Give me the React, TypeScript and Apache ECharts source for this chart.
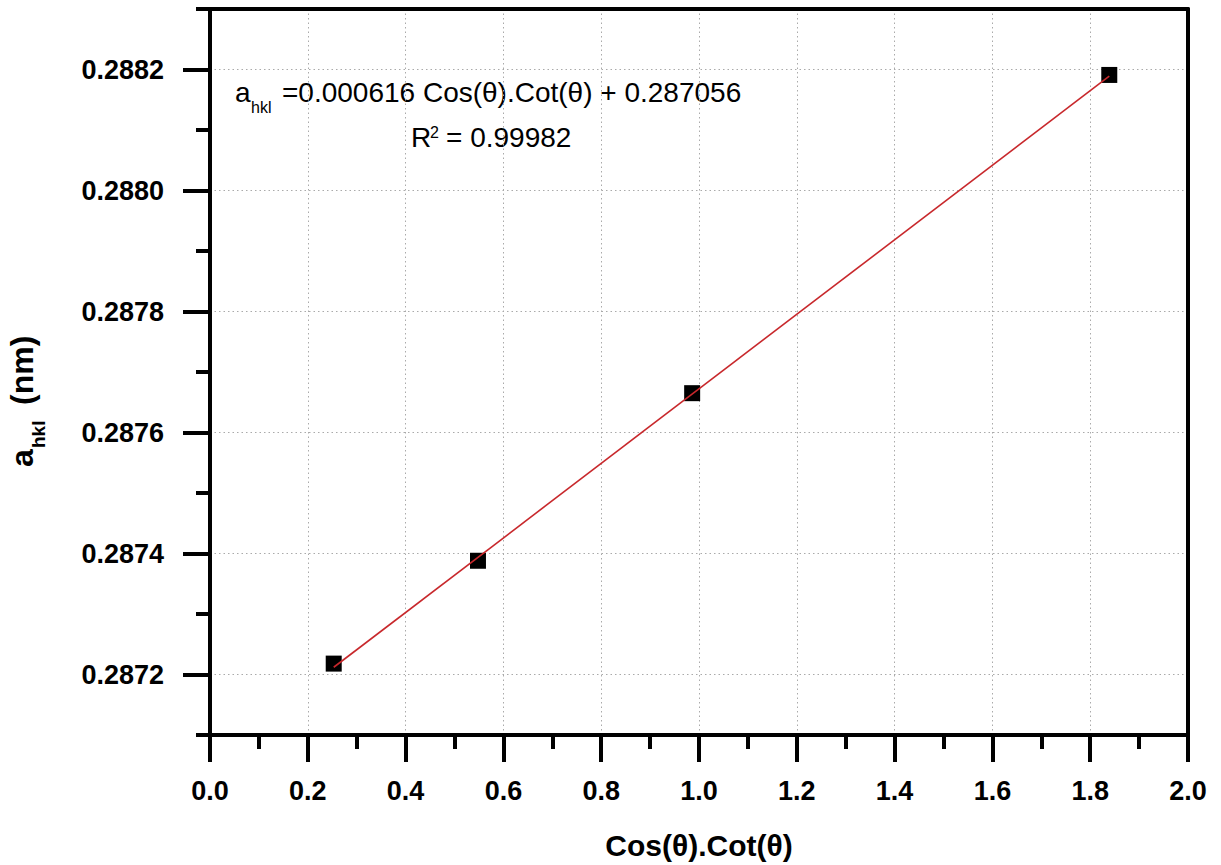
import React, { useEffect, useRef } from "react";
import * as echarts from "echarts";

// ---- data ----
const pointX = [0.253, 0.548, 0.986, 1.839];
const pointY = [0.287218, 0.287388, 0.287665, 0.288191];
const fitX = [0.253, 1.839];
const fitY = [0.287212, 0.288189];
const yMajorTicks = [0.2872, 0.2874, 0.2876, 0.2878, 0.288, 0.2882];
const xTitle = "Cos(θ).Cot(θ)";
const eqText = "=0.000616 Cos(θ).Cot(θ) + 0.287056";
const r2Text = "= 0.99982";

const FONT = "'Liberation Sans', Arial, Helvetica, sans-serif";

function txt(text: string, x: number, baseline: number, size: number, weight: string) {
  return {
    type: "text",
    x,
    y: baseline - 0.35 * size,
    silent: true,
    style: {
      text,
      fontSize: size,
      fontWeight: weight,
      fontFamily: FONT,
      fill: "#000",
      align: "left",
      textAlign: "left",
      verticalAlign: "middle",
      textVerticalAlign: "middle",
    },
  };
}

export default function App() {
  const ref = useRef<HTMLDivElement>(null);
  useEffect(() => {
    if (!ref.current) return;
    const chart = echarts.init(ref.current, undefined, { renderer: "svg" });
    const axisBlack = { show: true, onZero: false, lineStyle: { color: "#000", width: 4 } };
    const dotted = { show: true, lineStyle: { color: "#aaaaaa", width: 1, type: [1.5, 3] } };
    const option: any = {
      animation: false,
      backgroundColor: "#fff",
      grid: { left: 210, right: 33, top: 9, bottom: 129, containLabel: false },
      xAxis: [
        {
          type: "value",
          position: "bottom",
          min: 0,
          max: 2,
          interval: 0.2,
          axisLine: axisBlack,
          axisTick: { show: true, inside: false, length: 27, lineStyle: { color: "#000", width: 4 } },
          minorTick: { show: true, splitNumber: 2, length: 14, lineStyle: { color: "#000", width: 4 } },
          axisLabel: {
            margin: 42,
            formatter: (v: number) => v.toFixed(1),
            fontSize: 27,
            fontWeight: "bold",
            fontFamily: FONT,
            color: "#000",
          },
          splitLine: dotted,
          name: xTitle,
          nameLocation: "middle",
          nameGap: 95,
          nameTextStyle: { fontSize: 30, fontWeight: "bold", fontFamily: FONT, color: "#000" },
        },
        {
          type: "value",
          position: "top",
          min: 0,
          max: 2,
          interval: 0.2,
          axisLine: axisBlack,
          axisTick: { show: false },
          axisLabel: { show: false },
          splitLine: { show: false },
        },
      ],
      yAxis: [
        {
          type: "value",
          position: "left",
          min: 0.2871,
          max: 0.2883,
          splitNumber: 6,
          axisLine: axisBlack,
          axisTick: {
            show: true,
            length: 27,
            customValues: yMajorTicks,
            lineStyle: { color: "#000", width: 4 },
          },
          axisLabel: {
            customValues: yMajorTicks,
            margin: 46,
            formatter: (v: number) => v.toFixed(4),
            fontSize: 27,
            fontWeight: "bold",
            fontFamily: FONT,
            color: "#000",
          },
          splitLine: dotted,
        },
        {
          type: "value",
          position: "left",
          min: 0.2871,
          max: 0.2883,
          interval: 0.0001,
          axisLine: { show: false, onZero: false },
          axisTick: { show: true, length: 14, lineStyle: { color: "#000", width: 4 } },
          axisLabel: { show: false },
          splitLine: { show: false },
        },
        {
          type: "value",
          position: "right",
          min: 0.2871,
          max: 0.2883,
          splitNumber: 6,
          axisLine: axisBlack,
          axisTick: { show: false },
          axisLabel: { show: false },
          splitLine: { show: false },
        },
      ],
      series: [
        {
          type: "line",
          name: "fit",
          xAxisIndex: 0,
          yAxisIndex: 0,
          data: fitX.map((x, i) => [x, fitY[i]]),
          showSymbol: false,
          symbol: "none",
          lineStyle: { color: "#c8282c", width: 1.6 },
          z: 3,
        },
        {
          type: "scatter",
          name: "data",
          xAxisIndex: 0,
          yAxisIndex: 0,
          data: pointX.map((x, i) => [x, pointY[i]]),
          symbol: "rect",
          symbolSize: 16,
          itemStyle: { color: "#000", opacity: 1 },
          z: 2,
        },
      ],
      graphic: [
        // y axis title, rotated
        {
          type: "group",
          x: 33,
          y: 467,
          rotation: Math.PI / 2,
          children: [
            txt("a", 0, 0, 32, "bold"),
            txt("hkl", 19, 12, 19, "bold"),
            txt("(nm)", 62, 0, 32, "bold"),
          ],
        },
        // equation
        txt("a", 235, 102, 28, "normal"),
        txt("hkl", 251, 113, 16, "normal"),
        txt(eqText, 282, 102, 28, "normal"),
        txt("R", 411, 147, 28, "normal"),
        txt("2", 430, 138, 16, "normal"),
        txt(r2Text, 446, 147, 28, "normal"),
      ],
    };
    chart.setOption(option);
    return () => chart.dispose();
  }, []);
  return (
    <div
      ref={ref}
      style={{ position: "fixed", left: 0, top: 0, width: 1221, height: 865, background: "#fff" }}
    />
  );
}
